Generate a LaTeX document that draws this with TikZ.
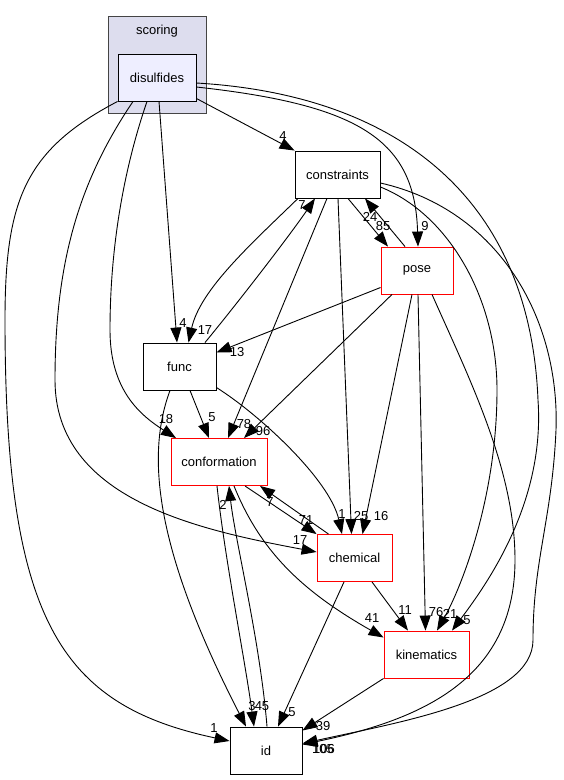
\documentclass[tikz,border=0pt]{standalone}
\usepackage{fontspec}
\setmainfont{Liberation Sans}
\usetikzlibrary{positioning,arrows.meta}
\definecolor{dxcluster}{RGB}{221,221,238}
\definecolor{dxframe}{RGB}{68,68,68}
\definecolor{dxpkg}{RGB}{238,238,255}
\definecolor{dxred}{RGB}{255,0,0}

\begin{document}
\begin{tikzpicture}[
  x=1pt, y=-1pt,
  >={Triangle[length=15pt,width=11pt]},
  every node/.style={font=\fontsize{13}{15}\selectfont},
  box/.style={draw=black,line width=0.9pt,fill=white,inner sep=0pt,
              minimum width=73pt,minimum height=47pt},
  redbox/.style={box,draw=dxred},
  pkgbox/.style={box,fill=dxpkg},
  clusterbox/.style={draw=dxframe,line width=0.9pt,fill=dxcluster,
              minimum width=98pt,minimum height=97pt},
  dep/.style={->,line width=0.9pt},
  lbl/.style={inner sep=0pt}
]
  \useasboundingbox (0,0) rectangle (563,780);

  % scoring cluster
  \node[clusterbox] (scoring) at (157,64.5) {};
  \node[below=6pt of scoring.north] (scoringtxt) {scoring};
  \node[pkgbox, minimum width=78pt] (dis) at (157,77.5) {disulfides};

  % directories
  \node[box, minimum width=85pt] (con) at (337.5,174.5) {constraints};
  \node[redbox, minimum width=72pt] (pose) at (417,270.5) {pose};
  \node[box] (func) at (179.5,366.5) {func};
  \node[redbox, minimum width=96pt] (conf) at (219,462) {conformation};
  \node[redbox, minimum width=75pt] (chem) at (354.5,558) {chemical};
  \node[redbox, minimum width=85pt] (kin) at (426.5,654.5) {kinematics};
  \node[box, minimum width=72pt] (id) at (266,750.5) {id};

  % from disulfides
  \draw[dep] ([yshift=-21]dis.east) -- (con.north west) node[lbl] at (283,136) {4};
  \draw[dep] ([yshift=-9.5]dis.east) .. controls (360,105) and (415,140) .. ([xshift=1]pose.north)
    node[lbl] at (425,226) {9};
  \draw[dep] ([yshift=-5.5]dis.east) .. controls (400,95) and (530,200) .. (538,400)
    .. controls (545,500) and (490,580) .. ([xshift=25.5]kin.north) node[lbl] at (467,620) {5};
  \draw[dep] ([xshift=2]dis.south) -- ([xshift=-2.5]func.north) node[lbl] at (183,323) {4};
  \draw[dep] ([xshift=-10]dis.south) .. controls (120,180) and (110,260) .. (110,330)
    .. controls (110,390) and (140,415) .. ([xshift=-43]conf.north) node[lbl] at (166,419) {18};
  \draw[dep] ([xshift=-24]dis.south) .. controls (80,180) and (55,260) .. (55,380)
    .. controls (55,500) and (200,530) .. ([yshift=6]chem.west) node[lbl] at (300,540) {17};
  \draw[dep] (dis.south west) .. controls (25,150) and (5,200) .. (5,320)
    .. controls (5,620) and (60,705) .. ([yshift=9.5]id.west) node[lbl] at (214,728) {1};

  % from constraints
  \draw[dep] ([xshift=-39.5]con.south) .. controls (250,245) and (200,290) .. ([xshift=9]func.north)
    node[lbl] at (205,330) {17};
  \draw[dep] ([xshift=-10.5]con.south) -- ([xshift=9]conf.north) node[lbl] at (244,424) {78};
  \draw[dep] ([xshift=0.5]con.south) -- ([xshift=-3]chem.north) node[lbl] at (361,516) {25};
  \draw[dep] ([xshift=10.5]con.south) -- ([xshift=-29]pose.north) node[lbl] at (383,226) {85};
  \draw[dep] ([yshift=-12.5]con.east) .. controls (450,215) and (497,300) .. (497,390)
    .. controls (497,500) and (460,590) .. ([xshift=10.5]kin.north) node[lbl] at (450,614) {21};
  \draw[dep] ([yshift=-8.5]con.east) .. controls (500,210) and (560,320) .. (556,430)
    .. controls (552,520) and (533,560) .. (533,640)
    .. controls (533,700) and (400,722) .. ([yshift=7]id.east) node[lbl] at (323,749) {105};

  % from pose
  \draw[dep] ([xshift=-12]pose.north) -- ([xshift=27.5]con.south) node[lbl] at (370,217) {24};
  \draw[dep] ([yshift=-17]pose.west) -- ([yshift=14]func.east) node[lbl] at (237,352) {13};
  \draw[dep] ([xshift=-25]pose.south) -- ([xshift=25]conf.north) node[lbl] at (263,431) {96};
  \draw[dep] ([xshift=-5]pose.south) -- ([xshift=8]chem.north) node[lbl] at (381,516) {16};
  \draw[dep] ([xshift=1]pose.south) -- ([xshift=-1]kin.north) node[lbl] at (436,612) {76};
  \draw[dep] ([xshift=15]pose.south) .. controls (470,380) and (515,470) .. (515,560)
    .. controls (515,680) and (420,720) .. ([yshift=6]id.east) node[lbl] at (324,749) {106};

  % from func
  \draw[dep] ([xshift=25.5]func.north) .. controls (240,300) and (290,235) .. ([xshift=-22.5]con.south)
    node[lbl] at (302,205) {7};
  \draw[dep] ([xshift=10.5]func.south) -- ([xshift=-10]conf.north) node[lbl] at (212,417) {5};
  \draw[dep] ([yshift=-21]func.east) .. controls (260,415) and (330,480) .. ([xshift=-12.5]chem.north)
    node[lbl] at (342,514) {1};
  \draw[dep] ([xshift=-9.5]func.south) .. controls (148,450) and (150,540) .. ([xshift=-20]id.north)
    node[lbl] at (252,706) {3};

  % from conformation, chemical, kinematics, id
  \draw[dep] ([xshift=26]conf.south) -- (chem.north west) node[lbl] at (306,520) {71};
  \draw[dep] ([xshift=-26]chem.north) -- ([xshift=41]conf.south) node[lbl] at (270,502) {7};
  \draw[dep] ([xshift=-2]conf.south) .. controls (225,560) and (245,660) .. ([xshift=-12]id.north)
    node[lbl] at (262,706) {45};
  \draw[dep] ([xshift=1]id.north) .. controls (260,640) and (235,540) .. ([xshift=10]conf.south)
    node[lbl] at (223,505) {2};
  \draw[dep] ([xshift=15]conf.south) .. controls (260,550) and (300,590) .. ([yshift=17]kin.west)
    node[lbl] at (372,618) {41};
  \draw[dep] ([xshift=17.5]chem.south) -- ([xshift=-18.5]kin.north) node[lbl] at (405,610) {11};
  \draw[dep] ([xshift=-10.5]chem.south) -- ([xshift=12]id.north) node[lbl] at (292,712) {5};
  \draw[dep] (kin.south west) -- ([yshift=20]id.east) node[lbl] at (323,726) {39};
\end{tikzpicture}
\end{document}
